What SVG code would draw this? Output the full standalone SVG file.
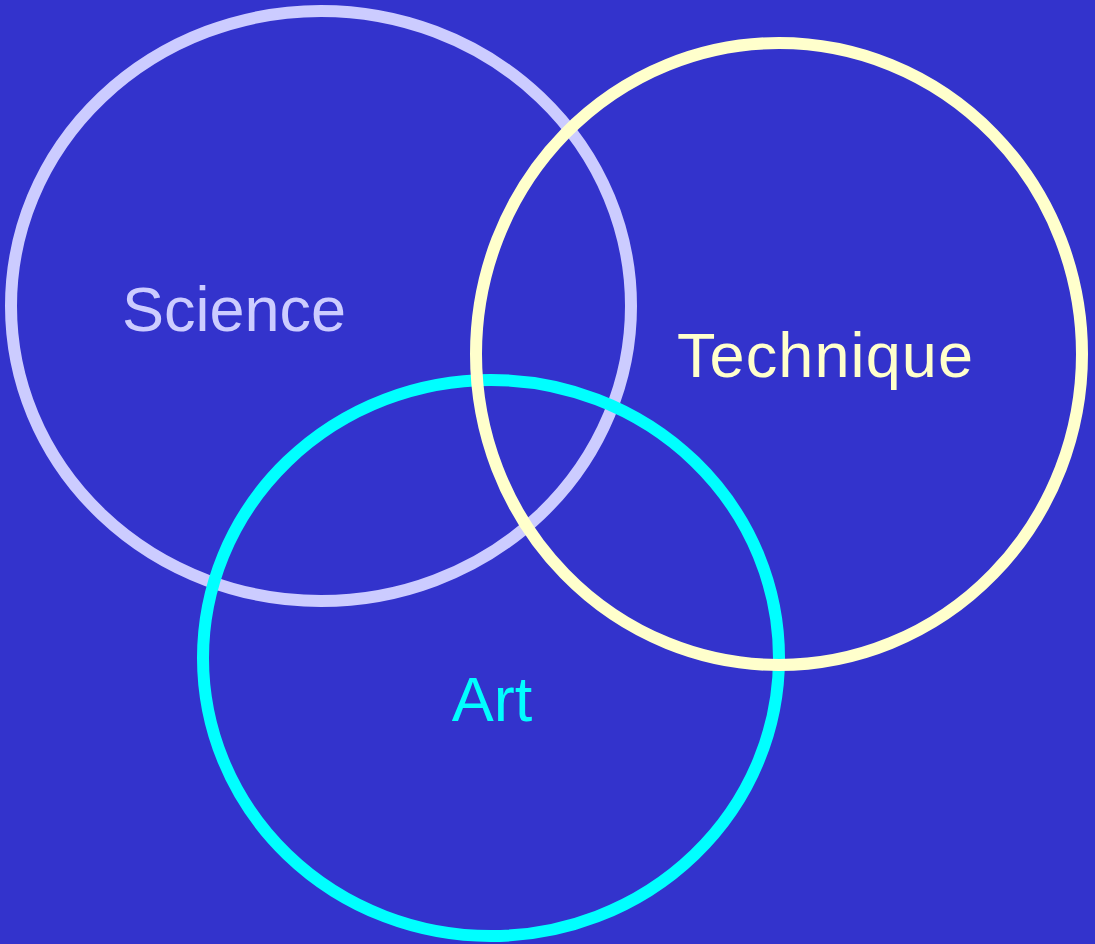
<svg xmlns="http://www.w3.org/2000/svg" width="1095" height="944" viewBox="0 0 1095 944">
<style>
.ring{fill:none;stroke-width:12}
.lbl{font-family:"Liberation Sans",Arial,sans-serif;font-size:63px;text-anchor:middle}
</style>
<rect x="0" y="0" width="1095" height="944" fill="#3333CC"/>
<g id="science">
<ellipse class="ring" cx="321" cy="306" rx="310" ry="295" stroke="#CCCCFF"/>
<text class="lbl" x="234" y="331" fill="#CCCCFF">Science</text>
</g>
<g id="art">
<ellipse class="ring" cx="491" cy="658" rx="288" ry="278" stroke="#00FFFF"/>
<text class="lbl" x="492" y="721" fill="#00FFFF">Art</text>
</g>
<g id="technique">
<ellipse class="ring" cx="779" cy="354" rx="303" ry="311" stroke="#FFFFCC"/>
<text class="lbl" x="825" y="377" fill="#FFFFCC" textLength="296" lengthAdjust="spacing">Technique</text>
</g>
<g id="connectors"></g>
</svg>
